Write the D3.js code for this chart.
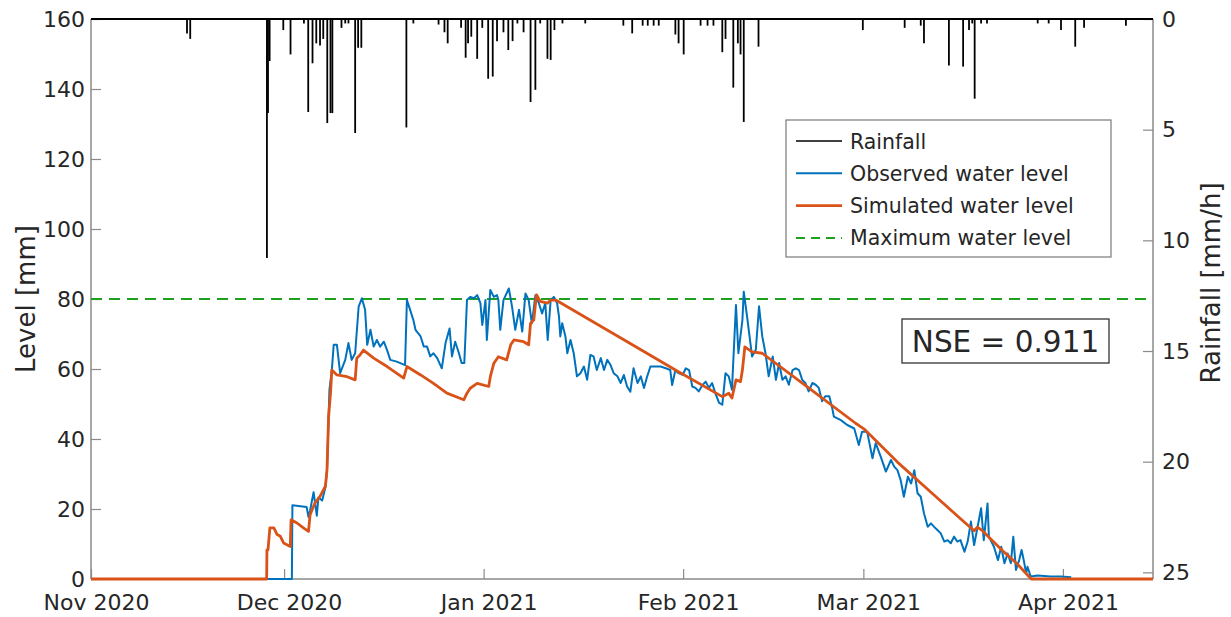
<!DOCTYPE html>
<html><head><meta charset="utf-8">
<script src="https://cdn.jsdelivr.net/npm/d3@7"></script>
<style>
body{margin:0;background:#fff;}
svg text{font-family:"DejaVu Sans",Verdana,sans-serif;fill:#262626;}
</style></head><body>
<svg id="chart" width="1231" height="617"></svg>
<script>
// ---------- DATA ----------
const monthTicks = ["2020-11-01 00","2020-12-01 00","2021-01-01 00","2021-02-01 00","2021-03-01 00","2021-04-01 00"];
const monthTickLabels = ["Nov 2020","Dec 2020","Jan 2021","Feb 2021","Mar 2021","Apr 2021"];
const levelTicks = [0,20,40,60,80,100,120,140,160];
const rainTicks = [0,5,10,15,20,25];
const maxWaterLevel = 80;
const nseText = "NSE = 0.911";
const seriesNames = ["Rainfall","Observed water level","Simulated water level","Maximum water level"];

// Rainfall [mm/h], hourly events
const rainTimes = ["2020-11-15 22","2020-11-16 10","2020-11-28 08","2020-11-28 12","2020-11-28 18","2020-11-30 21","2020-12-02 00","2020-12-04 02","2020-12-04 18","2020-12-05 10","2020-12-06 00","2020-12-06 14","2020-12-07 02","2020-12-07 17","2020-12-08 05","2020-12-08 12","2020-12-09 22","2020-12-10 12","2020-12-11 00","2020-12-12 01","2020-12-12 12","2020-12-13 00","2020-12-20 00","2020-12-21 02","2020-12-25 00","2020-12-25 22","2020-12-26 10","2020-12-28 12","2020-12-29 05","2020-12-29 14","2020-12-30 02","2020-12-31 00","2020-12-31 19","2021-01-01 17","2021-01-02 10","2021-01-03 02","2021-01-04 02","2021-01-04 20","2021-01-05 12","2021-01-06 06","2021-01-07 05","2021-01-08 07","2021-01-09 01","2021-01-09 19","2021-01-10 22","2021-01-11 10","2021-01-12 00","2021-01-13 06","2021-01-16 19","2021-01-22 17","2021-01-24 02","2021-01-25 17","2021-01-26 12","2021-01-27 10","2021-01-28 05","2021-01-30 19","2021-01-31 07","2021-02-01 02","2021-02-03 17","2021-02-04 19","2021-02-05 17","2021-02-07 02","2021-02-07 14","2021-02-08 19","2021-02-09 12","2021-02-09 22","2021-02-10 10","2021-02-12 17","2021-02-28 22","2021-03-07 10","2021-03-09 22","2021-03-10 10","2021-03-14 07","2021-03-16 12","2021-03-17 10","2021-03-17 22","2021-03-18 07","2021-03-19 07","2021-03-20 05","2021-03-28 02","2021-03-29 19","2021-03-31 17","2021-04-02 22","2021-04-04 07","2021-04-10 19"];
const rainValues = [0.66,0.9,10.8,4.25,1.9,0.5,1.6,0.2,4.2,2.0,1.1,1.2,0.9,4.7,4.25,4.25,0.4,0.2,0.2,5.15,1.3,1.3,4.9,0.2,0.25,0.6,1.1,0.4,1.75,1.1,0.8,1.8,0.4,2.7,2.6,1.0,0.6,1.4,1.0,0.2,0.6,3.75,3.2,0.2,1.8,1.85,0.5,0.2,0.2,0.3,0.65,0.3,0.3,0.3,0.3,0.7,1.1,1.6,0.3,0.3,0.3,1.5,0.9,3.1,1.1,1.6,4.65,1.25,0.5,0.4,0.3,1.1,2.1,2.15,0.5,0.2,3.6,0.2,0.2,0.2,0.2,0.5,1.25,0.4,0.3];

// Observed water level [mm]
const obsTimes = ["2020-11-01 00","2020-12-02 05","2020-12-02 07","2020-12-04 12","2020-12-04 19","2020-12-05 01","2020-12-05 14","2020-12-06 02","2020-12-06 08","2020-12-06 22","2020-12-07 10","2020-12-07 16","2020-12-08 01","2020-12-08 10","2020-12-08 17","2020-12-09 05","2020-12-09 17","2020-12-10 12","2020-12-11 00","2020-12-11 12","2020-12-12 01","2020-12-12 14","2020-12-13 02","2020-12-13 14","2020-12-13 22","2020-12-14 10","2020-12-14 22","2020-12-15 10","2020-12-15 22","2020-12-16 12","2020-12-17 00","2020-12-17 12","2020-12-18 12","2020-12-19 19","2020-12-20 02","2020-12-20 14","2020-12-21 02","2020-12-21 10","2020-12-22 05","2020-12-22 17","2020-12-23 05","2020-12-23 17","2020-12-24 05","2020-12-24 19","2020-12-25 12","2020-12-26 02","2020-12-26 17","2020-12-27 02","2020-12-27 14","2020-12-28 02","2020-12-28 14","2020-12-29 00","2020-12-29 10","2020-12-29 22","2020-12-30 12","2020-12-31 00","2020-12-31 12","2020-12-31 19","2021-01-01 07","2021-01-01 12","2021-01-02 01","2021-01-02 14","2021-01-03 02","2021-01-03 07","2021-01-03 14","2021-01-04 02","2021-01-04 22","2021-01-05 10","2021-01-05 22","2021-01-06 12","2021-01-07 00","2021-01-07 12","2021-01-08 00","2021-01-08 12","2021-01-09 01","2021-01-09 14","2021-01-10 02","2021-01-10 14","2021-01-10 23","2021-01-11 10","2021-01-11 22","2021-01-12 10","2021-01-12 17","2021-01-12 22","2021-01-13 05","2021-01-13 17","2021-01-14 00","2021-01-14 12","2021-01-15 00","2021-01-15 12","2021-01-16 01","2021-01-16 14","2021-01-17 02","2021-01-17 14","2021-01-18 02","2021-01-18 14","2021-01-19 05","2021-01-19 17","2021-01-20 05","2021-01-20 17","2021-01-21 05","2021-01-21 19","2021-01-22 07","2021-01-22 19","2021-01-23 07","2021-01-23 19","2021-01-24 07","2021-01-24 22","2021-01-25 10","2021-01-25 22","2021-01-26 10","2021-01-26 22","2021-01-27 17","2021-01-28 12","2021-01-29 07","2021-01-30 00","2021-01-30 07","2021-01-30 19","2021-01-31 07","2021-01-31 22","2021-02-01 10","2021-02-01 22","2021-02-02 10","2021-02-02 22","2021-02-03 10","2021-02-04 00","2021-02-04 12","2021-02-05 00","2021-02-05 12","2021-02-06 00","2021-02-06 14","2021-02-07 02","2021-02-07 14","2021-02-08 02","2021-02-08 14","2021-02-09 05","2021-02-09 14","2021-02-10 05","2021-02-10 10","2021-02-11 00","2021-02-11 17","2021-02-12 07","2021-02-12 19","2021-02-13 07","2021-02-13 19","2021-02-14 07","2021-02-14 22","2021-02-15 10","2021-02-15 22","2021-02-16 10","2021-02-16 22","2021-02-17 10","2021-02-18 00","2021-02-18 12","2021-02-19 00","2021-02-19 12","2021-02-20 00","2021-02-20 12","2021-02-21 02","2021-02-21 14","2021-02-22 02","2021-02-22 14","2021-02-23 02","2021-02-23 17","2021-02-24 05","2021-02-24 10","2021-02-25 12","2021-02-26 12","2021-02-27 14","2021-02-28 07","2021-02-28 19","2021-03-01 14","2021-03-02 10","2021-03-02 22","2021-03-03 17","2021-03-04 12","2021-03-05 07","2021-03-05 19","2021-03-06 07","2021-03-06 19","2021-03-07 07","2021-03-07 22","2021-03-08 10","2021-03-08 22","2021-03-09 10","2021-03-09 22","2021-03-10 10","2021-03-11 00","2021-03-11 12","2021-03-12 00","2021-03-12 12","2021-03-13 00","2021-03-13 14","2021-03-14 02","2021-03-14 14","2021-03-15 02","2021-03-15 14","2021-03-16 02","2021-03-16 17","2021-03-17 05","2021-03-17 17","2021-03-18 05","2021-03-18 17","2021-03-19 07","2021-03-19 17","2021-03-20 07","2021-03-20 12","2021-03-21 07","2021-03-21 22","2021-03-22 10","2021-03-22 22","2021-03-23 10","2021-03-23 22","2021-03-24 07","2021-03-24 17","2021-03-25 05","2021-03-25 14","2021-03-25 22","2021-03-26 07","2021-03-26 12","2021-03-27 00","2021-03-28 02","2021-03-30 02","2021-03-31 17","2021-04-02 07"];
const obsValues = [0,0,21.1,20.6,17.7,19.6,24.8,18.1,23.3,22.4,26.2,31,54,59.7,66.9,66.9,58.8,62.6,67.4,62.6,64.5,77.8,80.2,76.9,66.9,71.2,66.4,68.3,66.4,67.8,65.4,62.6,62.1,61.1,79.7,76.9,74,71.2,69.3,66.4,66.4,63.6,64.5,63.1,60.2,67.4,71.6,63.6,67.8,65,61.7,61.7,79.7,80.6,80.2,81.1,78.8,72.6,79.7,68.3,82.6,80.6,81.1,79.7,71.2,79.7,83.0,77.8,71.2,76.9,70.7,81.6,79.7,73.0,81.1,78.8,75.9,78.8,68.3,79.7,80.6,78.8,75,69.3,73.1,69.3,64.5,68.3,64.5,57.9,58.8,60.7,56.9,64,63.6,59.7,63.1,59.7,62.6,61.2,58.8,57.9,56,58.3,55,53.5,60.2,56,57.9,54.6,57.9,60.7,60.7,60.7,60.2,59.7,55.4,59.7,58.8,58.3,60.2,59.7,55,54.6,53.6,55.4,56.4,54.6,56,53.1,50.3,49.8,58.8,57.9,54.1,78.3,64.5,74,82.1,74,63.6,65.5,77.9,69.3,64.5,57.9,63.6,56.9,61.7,56.9,57.9,55.5,59.7,60.2,59.7,56.9,56,53.6,56,55.5,54.6,50.8,52.2,52.2,48.4,46.4,45.4,44,43,38.3,42.1,42.1,34.5,38.8,34.9,30.7,34,32.1,31.1,28.3,23.5,29.2,27.3,31.1,24.5,23.5,18.8,14.9,15.9,14.9,14,13.1,10.7,11.1,10.2,12.1,10.7,11.1,7.8,10.7,16.4,9.7,14.5,20.2,11.1,21.6,12.1,9.2,5.4,9.2,4.5,7.3,4.5,12.1,2.6,5.4,8.3,5.4,1.6,3.5,0.7,1.0,0.7,0.7,0.5];

// Simulated water level [mm]
const simTimes = ["2020-11-01 00","2020-11-28 07","2020-11-28 08","2020-11-28 12","2020-11-28 19","2020-11-29 10","2020-11-29 22","2020-11-30 10","2020-11-30 22","2020-12-01 23","2020-12-02 02","2020-12-03 00","2020-12-04 00","2020-12-04 19","2020-12-05 01","2020-12-05 19","2020-12-06 14","2020-12-07 10","2020-12-07 16","2020-12-07 22","2020-12-08 05","2020-12-08 10","2020-12-09 05","2020-12-10 19","2020-12-12 01","2020-12-12 07","2020-12-12 19","2020-12-13 08","2020-12-14 22","2020-12-17 00","2020-12-19 14","2020-12-20 02","2020-12-22 05","2020-12-24 05","2020-12-26 07","2020-12-28 22","2020-12-29 10","2020-12-29 22","2020-12-31 00","2021-01-01 19","2021-01-02 01","2021-01-02 14","2021-01-03 07","2021-01-04 14","2021-01-05 05","2021-01-05 17","2021-01-07 05","2021-01-08 00","2021-01-08 07","2021-01-08 19","2021-01-09 05","2021-01-09 19","2021-01-10 22","2021-01-11 10","2021-01-12 05","2021-01-24 17","2021-01-31 00","2021-02-07 02","2021-02-08 02","2021-02-08 14","2021-02-09 05","2021-02-09 22","2021-02-10 05","2021-02-10 14","2021-02-11 17","2021-02-13 07","2021-02-20 12","2021-02-27 19","2021-03-01 02","2021-03-06 07","2021-03-11 12","2021-03-16 17","2021-03-18 05","2021-03-18 17","2021-03-19 12","2021-03-20 19","2021-03-22 22","2021-03-24 22","2021-03-27 02","2021-04-15 00"];
const simValues = [0,0,8.3,8.3,14.6,14.6,12.7,12.2,10.3,9.3,16.9,16,14.6,13.6,18.4,21.7,23.6,26.5,31.2,46.4,53,59.7,58.3,57.8,56.9,63.1,64,65.4,63.1,60.7,57.4,60.7,58.3,55.9,53.1,51.2,53.1,54.5,55.9,55,57.8,61.6,63.5,62.6,66.9,68.3,67.8,66.9,73.1,74,81.2,79.3,78.8,79.7,79.7,66.3,59.5,52.1,53.1,51.7,56.9,56.4,59.7,66.3,64.9,64.5,54.6,44.5,42.9,33.4,24.8,16.2,13.8,14.8,13.8,11.4,7.6,4.3,0,0];

// ---------- CHART ----------
const parse = d3.timeParse("%Y-%m-%d %H");
const svg = d3.select("#chart");
const L = 91, R = 1153, T = 19, B = 579;
const axisColor = "#8a8a8a";

const x = d3.scaleTime().domain([parse("2020-11-01 00"), parse("2021-04-15 00")]).range([L, R]);
const yL = d3.scaleLinear().domain([0,160]).range([B, T]);
const yR = d3.scaleLinear().domain([0,25.3]).range([T, B]);

const obs = obsTimes.map((t,i)=>({t:parse(t), v:obsValues[i]}));
const sim = simTimes.map((t,i)=>({t:parse(t), v:simValues[i]}));
const rain = rainTimes.map((t,i)=>({t:parse(t), v:rainValues[i]}));

const g = svg.append("g");
const leftAxis = d3.axisLeft(yL).tickValues(levelTicks).tickSize(-10).tickPadding(6);
const gl = g.append("g").attr("transform",`translate(${L},0)`).call(leftAxis);
const rightAxis = d3.axisRight(yR).tickValues(rainTicks).tickSize(-10).tickPadding(9);
const gr = g.append("g").attr("transform",`translate(${R},0)`).call(rightAxis);
const bottomAxis = d3.axisBottom(x).tickValues(monthTicks.map(parse)).tickFormat((d,i)=>monthTickLabels[i]).tickSize(-10).tickPadding(15);
const gb = g.append("g").attr("transform",`translate(0,${B})`).call(bottomAxis);

[gl,gr,gb].forEach(a=>{
  a.select(".domain").attr("stroke",axisColor).attr("stroke-width",1.5);
  a.selectAll(".tick line").attr("stroke",axisColor).attr("stroke-width",1.2);
  a.selectAll(".tick text").attr("font-size",22).attr("fill","#262626").attr("font-family","DejaVu Sans, Verdana, sans-serif");
});
gl.select(".domain").attr("d",`M0,${B}V${T}`);
gr.select(".domain").attr("d",`M0,${B}V${T}`);
gb.select(".domain").attr("d",`M${L},0H${R}`);
gb.selectAll(".tick text").attr("dx",5);

// axis labels
svg.append("text").attr("transform",`translate(35,${(T+B)/2}) rotate(-90)`)
  .attr("text-anchor","middle").attr("font-size",26).text("Level [mm]");
svg.append("text").attr("transform",`translate(1220,${(T+B)/2-16}) rotate(-90)`)
  .attr("text-anchor","middle").attr("font-size",26).text("Rainfall [mm/h]");

// max water level
svg.append("line").attr("x1",L).attr("x2",R).attr("y1",yL(maxWaterLevel)).attr("y2",yL(maxWaterLevel))
  .attr("stroke","#1fa01f").attr("stroke-width",2.2).attr("stroke-dasharray","11,7");

// observed
const line = d3.line().x(d=>x(d.t)).y(d=>yL(d.v));
svg.append("path").datum(obs).attr("d",line).attr("fill","none").attr("stroke","#0072BD").attr("stroke-width",2).attr("stroke-linejoin","round");
// simulated
svg.append("path").datum(sim).attr("d",line).attr("fill","none").attr("stroke","#D95319").attr("stroke-width",2.8).attr("stroke-linejoin","round");

// rainfall
svg.append("line").attr("x1",L).attr("x2",R).attr("y1",yR(0)).attr("y2",yR(0)).attr("stroke","#000").attr("stroke-width",2.2);
svg.append("g").selectAll("line").data(rain).join("line")
  .attr("x1",d=>x(d.t)).attr("x2",d=>x(d.t)).attr("y1",yR(0)).attr("y2",d=>yR(d.v))
  .attr("stroke","#000").attr("stroke-width",1.8);

// legend
const lg = svg.append("g");
lg.append("rect").attr("x",786).attr("y",120).attr("width",325).attr("height",137)
  .attr("fill","#fff").attr("stroke","#7a7a7a").attr("stroke-width",1.2);
const legStyles = [
  {c:"#000", w:1.6, dash:null},
  {c:"#0072BD", w:2, dash:null},
  {c:"#D95319", w:2.6, dash:null},
  {c:"#1fa01f", w:2, dash:"9,6"}
];
seriesNames.forEach((n,i)=>{
  const yy = 141 + i*32.3;
  lg.append("line").attr("x1",796).attr("x2",842).attr("y1",yy).attr("y2",yy)
    .attr("stroke",legStyles[i].c).attr("stroke-width",legStyles[i].w).attr("stroke-dasharray",legStyles[i].dash);
  lg.append("text").attr("x",850).attr("y",yy+7.5).attr("font-size",20.5).attr("fill","#000").text(n);
});

// NSE box
svg.append("rect").attr("x",902).attr("y",319).attr("width",207).attr("height",44)
  .attr("fill","#fff").attr("stroke","#333").attr("stroke-width",1.3);
svg.append("text").attr("x",1005.5).attr("y",352).attr("text-anchor","middle").attr("font-size",29.5).attr("fill","#000").text(nseText);
</script>
</body></html>
